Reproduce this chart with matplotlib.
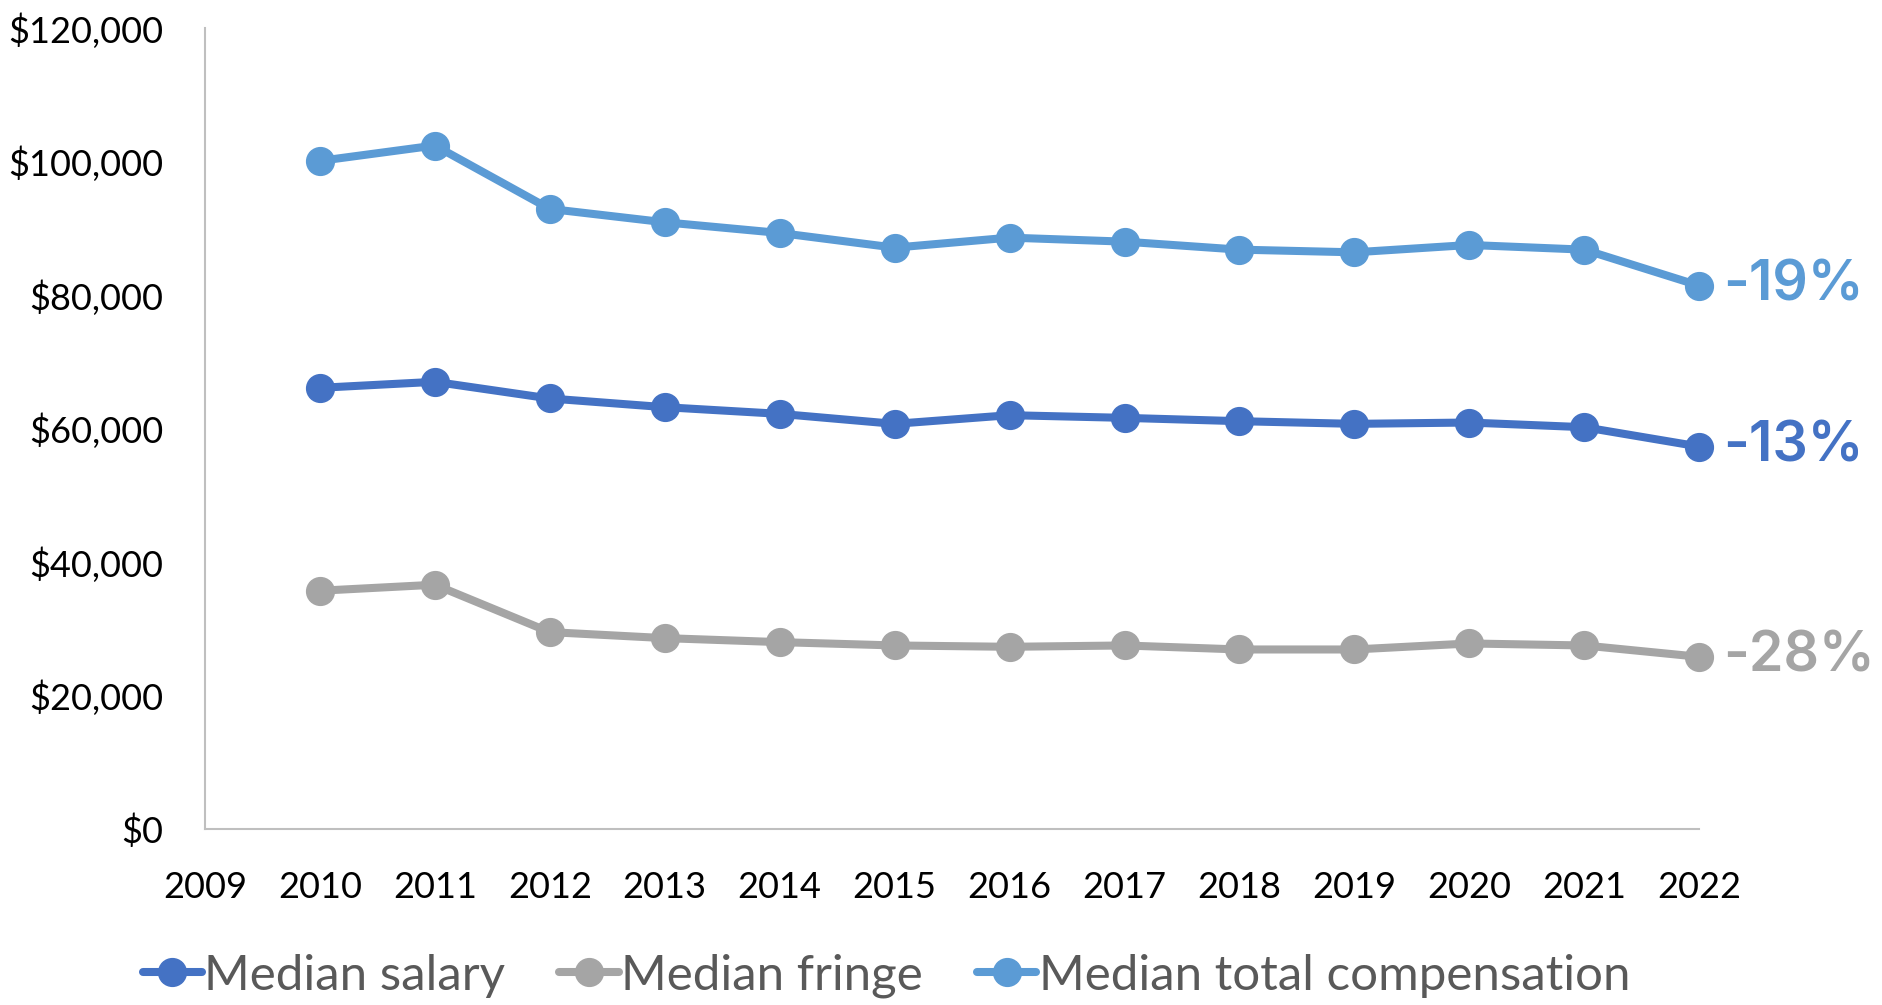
import matplotlib.pyplot as plt
from matplotlib.ticker import FuncFormatter

years = list(range(2010, 2023))
salary = [66.1, 67.0, 64.5, 63.2, 62.2, 60.7, 62.0, 61.6, 61.1, 60.7, 60.9, 60.2, 57.3]
fringe = [35.7, 36.6, 29.5, 28.6, 28.0, 27.5, 27.3, 27.5, 26.9, 26.9, 27.8, 27.5, 25.8]
total = [100.1, 102.4, 92.9, 90.9, 89.3, 87.1, 88.6, 88.0, 86.8, 86.4, 87.5, 86.8, 81.4]
# values in thousands of dollars
salary = [v * 1000 for v in salary]
fringe = [v * 1000 for v in fringe]
total = [v * 1000 for v in total]

series = [
    ("Median salary", salary, "#4472C4"),
    ("Median fringe", fringe, "#A5A5A5"),
    ("Median total compensation", total, "#5B9BD5"),
]

plt.rcParams['font.family'] = ['Lato', 'DejaVu Sans']

fig = plt.figure(figsize=(18.82, 10.05), dpi=100)
ax = fig.add_axes([0.1089, 0.1751, 0.794, 0.797])

for name, vals, color in series:
    ax.plot(years, vals, color=color, lw=5.8, marker='o', markersize=20,
            solid_capstyle='round', label=name, clip_on=False)
    pct = (vals[-1] / vals[0] - 1) * 100
    ax.annotate(f"{pct:.0f}%", xy=(years[-1], vals[-1]), xytext=(24, 0),
                textcoords='offset pixels', ha='left', va='center',
                color=color, fontsize=40, fontweight='semibold',
                family=['Inter', 'DejaVu Sans'], annotation_clip=False)

ax.set_xlim(2009, 2022)
ax.set_ylim(0, 120000)
ax.set_xticks(range(2009, 2023))
ax.set_yticks(range(0, 120001, 20000))
ax.yaxis.set_major_formatter(FuncFormatter(lambda v, p: f"${v:,.0f}"))

for side in ('top', 'right'):
    ax.spines[side].set_visible(False)
for side in ('left', 'bottom'):
    ax.spines[side].set_color('#BFBFBF')
    ax.spines[side].set_linewidth(1.5)
ax.tick_params(length=0, labelsize=26, colors='black')
ax.tick_params(axis='y', pad=30)
ax.tick_params(axis='x', pad=30)

leg = fig.legend(loc='center', bbox_to_anchor=(0.471, 0.029), ncol=3,
                 frameon=False, fontsize=35.5, handlelength=1.2,
                 handletextpad=0.05, columnspacing=1.1, labelcolor='#595959')

fig.savefig('out.png', dpi=100)
